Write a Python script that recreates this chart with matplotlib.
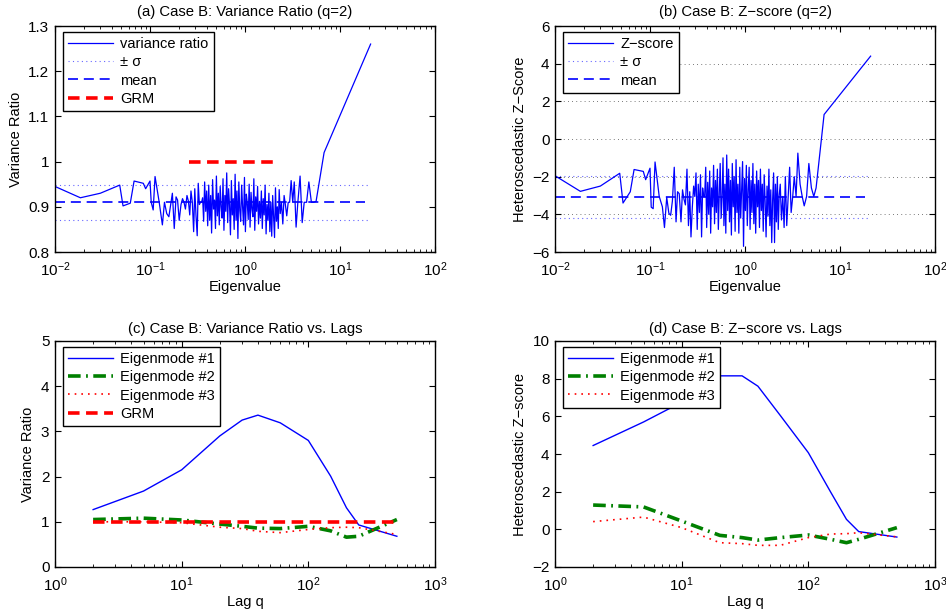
import matplotlib
matplotlib.use('Agg')
import matplotlib.pyplot as plt
from matplotlib.ticker import FormatStrFormatter
import numpy as np

plt.rcParams['font.family'] = ['Liberation Sans', 'DejaVu Sans']
plt.rcParams['font.size'] = 10

# --- panels (a)/(b): variance ratio and z-score per eigenvalue (q=2) ---
eig_head = [0.0100, 0.0185, 0.0300, 0.0480, 0.0520, 0.0620, 0.0680, 0.0850, 0.0900, 0.1000,
            0.1030, 0.1080, 0.1130]
vr_head = [0.945, 0.920, 0.930, 0.948, 0.902, 0.908, 0.957, 0.952, 0.940, 0.957,
           0.910, 0.893, 0.967]
z_head = [-1.95, -2.78, -2.50, -1.82, -3.40, -2.80, -1.62, -1.72, -2.16, -1.55,
          -3.62, -3.70, -1.22]

eig_noise = [0.125, 0.135, 0.142, 0.150, 0.158, 0.165, 0.172, 0.180, 0.188, 0.195,
             0.203, 0.212, 0.220, 0.228, 0.236, 0.245, 0.254, 0.262, 0.270, 0.279,
             0.288, 0.296, 0.305, 0.314, 0.322, 0.331, 0.340, 0.349, 0.358, 0.367,
             0.376, 0.386, 0.395, 0.405, 0.415, 0.425, 0.435, 0.445, 0.456, 0.467,
             0.478, 0.489, 0.500, 0.512, 0.524, 0.536, 0.548, 0.561, 0.574, 0.587,
             0.600, 0.614, 0.628, 0.642, 0.657, 0.672, 0.687, 0.703, 0.719, 0.735,
             0.752, 0.769, 0.787, 0.805, 0.823, 0.842, 0.861, 0.881, 0.901, 0.922,
             0.943, 0.965, 0.987, 1.010, 1.033, 1.057, 1.081, 1.106, 1.131, 1.157,
             1.184, 1.211, 1.239, 1.267, 1.296, 1.326, 1.357, 1.388, 1.420, 1.453,
             1.487, 1.521, 1.556, 1.592, 1.629, 1.667, 1.705, 1.745, 1.785, 1.826,
             1.868, 1.911, 1.955, 2.000, 2.046, 2.093, 2.141, 2.190, 2.240, 2.290,
             2.350, 2.420, 2.500, 2.580, 2.660, 2.750, 2.850, 2.950, 3.060, 3.180,
             3.300, 3.450, 3.600, 3.800, 4.000, 4.200, 4.450, 4.700, 5.000, 5.300]
vr_noise = [0.910, 0.860, 0.910, 0.885, 0.878, 0.905, 0.930, 0.852, 0.922, 0.915,
            0.870, 0.905, 0.918, 0.910, 0.895, 0.925, 0.912, 0.882, 0.935, 0.910,
            0.845, 0.940, 0.880, 0.836, 0.952, 0.905, 0.910, 0.910, 0.920, 0.868,
            0.955, 0.890, 0.935, 0.858, 0.948, 0.870, 0.925, 0.842, 0.960, 0.895,
            0.915, 0.852, 0.968, 0.880, 0.930, 0.860, 0.945, 0.900, 0.875, 0.962,
            0.848, 0.925, 0.890, 0.975, 0.865, 0.940, 0.905, 0.838, 0.958, 0.882,
            0.918, 0.850, 0.972, 0.870, 0.935, 0.830, 0.955, 0.892, 0.868, 0.948,
            0.900, 0.860, 0.965, 0.845, 0.928, 0.908, 0.872, 0.950, 0.855, 0.932,
            0.895, 0.878, 0.962, 0.848, 0.922, 0.890, 0.945, 0.862, 0.912, 0.875,
            0.935, 0.852, 0.918, 0.882, 0.948, 0.840, 0.905, 0.870, 0.930, 0.845,
            0.910, 0.835, 0.925, 0.880, 0.832, 0.942, 0.868, 0.900, 0.852, 0.938,
            0.885, 0.910, 0.862, 0.925, 0.905, 0.880, 0.910, 0.910, 0.958, 0.910,
            0.955, 0.855, 0.910, 0.968, 0.865, 0.910, 0.910, 0.955, 0.910, 0.910]
z_noise = [-3.05, -3.60, -4.70, -3.10, -3.95, -4.05, -3.30, -1.50, -4.40, -2.80,
           -2.90, -4.40, -2.70, -3.20, -3.50, -1.60, -4.60, -2.80, -5.20, -3.60,
           -2.50, -3.05, -1.80, -4.80, -2.40, -3.90, -1.90, -5.20, -2.60, -3.05,
           -3.05, -1.50, -4.70, -2.30, -4.00, -1.70, -5.00, -2.60, -3.60, -1.40,
           -4.50, -2.20, -3.90, -1.60, -4.80, -2.90, -1.30, -4.20, -3.10, -1.00,
           -4.60, -2.40, -5.00, -0.85, -3.80, -1.60, -4.40, -2.20, -5.10, -1.30,
           -3.60, -2.00, -4.90, -1.10, -3.90, -2.40, -5.00, -1.50, -4.20, -2.60,
           -1.20, -5.70, -2.10, -3.80, -1.40, -4.60, -2.70, -1.50, -4.80, -2.20,
           -3.90, -1.30, -4.50, -2.40, -5.00, -1.70, -3.60, -2.20, -4.70, -1.60,
           -3.80, -2.40, -4.90, -1.90, -3.30, -5.20, -2.50, -4.10, -1.60, -4.60,
           -2.70, -5.50, -3.20, -1.80, -5.50, -2.40, -4.40, -2.00, -4.80, -3.00,
           -2.40, -4.30, -3.05, -4.70, -2.00, -4.60, -3.05, -1.50, -3.90, -3.05,
           -2.00, -3.05, -0.75, -2.40, -3.05, -3.55, -3.05, -1.30, -2.60, -3.05]

eig_tail = [5.600, 6.800, 21.00]
vr_tail = [0.912, 1.020, 1.260]
z_tail = [-2.60, 1.30, 4.40]

vr_mean, vr_sig_hi, vr_sig_lo = 0.91, 0.948, 0.870
z_mean, z_sig_hi, z_sig_lo = -3.07, -1.98, -4.18
mean_span = [0.01, 18.5]
sigma_span = [0.01, 20.0]
grm_span = [0.26, 2.25]
grm_level = 1.0

# --- panels (c)/(d): lags ---
lags = [2, 5, 10, 20, 30, 40, 60, 100, 150, 200, 250, 500]
vr_mode1 = [1.27, 1.68, 2.15, 2.90, 3.25, 3.36, 3.19, 2.80, 2.01, 1.31, 0.93, 0.68]
vr_mode2 = [1.05, 1.08, 1.04, 0.95, 0.90, 0.86, 0.85, 0.90, 0.80, 0.66, 0.68, 1.05]
vr_mode3 = [1.00, 1.00, 0.98, 0.88, 0.85, 0.79, 0.76, 0.83, 0.87, 0.88, 0.87, 0.72]
z_mode1 = [4.45, 5.70, 6.75, 8.15, 8.15, 7.60, 6.05, 4.07, 1.98, 0.53, -0.12, -0.41]
z_mode2 = [1.29, 1.19, 0.44, -0.32, -0.44, -0.57, -0.44, -0.30, -0.53, -0.71, -0.53, 0.09]
z_mode3 = [0.41, 0.65, 0.09, -0.71, -0.76, -0.85, -0.85, -0.44, -0.25, -0.23, -0.18, -0.40]

eig = np.array(eig_head + eig_noise + eig_tail)
vr = np.array(vr_head + vr_noise + vr_tail)
zs = np.array(z_head + z_noise + z_tail)

fig = plt.figure(figsize=(9.46, 6.16), dpi=100)
W, H = 380 / 946, 226 / 616
ax_a = fig.add_axes([55 / 946, 1 - 252 / 616, W, H])
ax_b = fig.add_axes([555 / 946, 1 - 252 / 616, W, H])
ax_c = fig.add_axes([55 / 946, 1 - 567 / 616, W, H])
ax_d = fig.add_axes([555 / 946, 1 - 567 / 616, W, H])

blue, green, red = (0, 0, 1), (0, 0.5, 0), (1, 0, 0)
TITLE_FS = 10.7


def style(ax):
    ax.set_xscale('log')
    ax.tick_params(which='both', direction='in', top=True, right=True, labelsize=11)
    ax.tick_params(which='major', length=4)
    ax.tick_params(which='minor', length=2)
    ax.tick_params(axis='x', which='major', pad=6)
    ax.tick_params(axis='y', which='major', pad=4)
    for s in ax.spines.values():
        s.set_linewidth(1.0)


def legend(ax, **kw):
    leg = ax.legend(loc='upper left', bbox_to_anchor=(0.02, 0.975), borderaxespad=0,
                    fancybox=False, edgecolor='k', framealpha=1, handlelength=3.1,
                    handletextpad=0.5, labelspacing=0.3, borderpad=0.35, fontsize=10.5, **kw)
    leg.get_frame().set_linewidth(1.0)
    return leg


# (a)
ax = ax_a
style(ax)
ax.plot(eig, vr, color=blue, lw=0.9, label='variance ratio')
ax.plot(sigma_span, [vr_sig_hi] * 2, color=blue, lw=0.8, ls=(0, (1, 3)), alpha=0.6, label='± σ')
ax.plot(sigma_span, [vr_sig_lo] * 2, color=blue, lw=0.8, ls=(0, (1, 3)), alpha=0.6)
ax.plot(mean_span, [vr_mean] * 2, color=blue, lw=1.2, ls=(0, (6, 3.5)), label='mean')
ax.plot(grm_span, [grm_level] * 2, color=red, lw=2.6, ls=(0, (3.2, 1.8)), label='GRM')
ax.set_xlim(0.01, 100)
ax.set_ylim(0.8, 1.3)
ax.set_yticks([0.8, 0.9, 1.0, 1.1, 1.2, 1.3])
ax.yaxis.set_major_formatter(FormatStrFormatter('%g'))
ax.set_xlabel('Eigenvalue', fontsize=10.5, labelpad=1)
ax.set_ylabel('Variance Ratio', fontsize=10.5)
ax.set_title('(a) Case B: Variance Ratio (q=2)', fontsize=TITLE_FS, pad=7)
legend(ax)

# (b)
ax = ax_b
style(ax)
for yv in [-4, -2, 0, 2, 4]:
    ax.axhline(yv, color='k', lw=0.6, ls=(0, (1, 4)), alpha=0.7, zorder=0)
ax.plot(eig, zs, color=blue, lw=0.9, label='Z\u2212score')
ax.plot(sigma_span, [z_sig_hi] * 2, color=blue, lw=0.8, ls=(0, (1, 3)), alpha=0.6, label='± σ')
ax.plot(sigma_span, [z_sig_lo] * 2, color=blue, lw=0.8, ls=(0, (1, 3)), alpha=0.6)
ax.plot(mean_span, [z_mean] * 2, color=blue, lw=1.2, ls=(0, (6, 3.5)), label='mean')
ax.set_xlim(0.01, 100)
ax.set_ylim(-6, 6)
ax.set_yticks([-6, -4, -2, 0, 2, 4, 6])
ax.set_xlabel('Eigenvalue', fontsize=10.5, labelpad=1)
ax.set_ylabel('Heteroscedastic Z\u2212Score', fontsize=10.5)
ax.set_title('(b) Case B: Z\u2212score (q=2)', fontsize=TITLE_FS, pad=7)
legend(ax)

# (c)
ax = ax_c
style(ax)
ax.plot(lags, vr_mode1, color=blue, lw=1.0, label='Eigenmode #1')
ax.plot(lags, vr_mode2, color=green, lw=2.6, ls=(0, (3.5, 1.5, 0.5, 1.5)), label='Eigenmode #2')
ax.plot(lags, vr_mode3, color=red, lw=1.2, ls=(0, (1, 3)), label='Eigenmode #3')
ax.plot([lags[0], lags[-1]], [grm_level] * 2, color=red, lw=2.6, ls=(0, (3.2, 1.8)), label='GRM')
ax.set_xlim(1, 1000)
ax.set_ylim(0, 5)
ax.set_xlabel('Lag q', fontsize=10.5, labelpad=1)
ax.set_ylabel('Variance Ratio', fontsize=10.5)
ax.set_title('(c) Case B: Variance Ratio vs. Lags', fontsize=TITLE_FS, pad=6)
legend(ax)

# (d)
ax = ax_d
style(ax)
ax.plot(lags, z_mode1, color=blue, lw=1.0, label='Eigenmode #1')
ax.plot(lags, z_mode2, color=green, lw=2.6, ls=(0, (3.5, 1.5, 0.5, 1.5)), label='Eigenmode #2')
ax.plot(lags, z_mode3, color=red, lw=1.2, ls=(0, (1, 3)), label='Eigenmode #3')
ax.set_xlim(1, 1000)
ax.set_ylim(-2, 10)
ax.set_yticks([-2, 0, 2, 4, 6, 8, 10])
ax.set_xlabel('Lag q', fontsize=10.5, labelpad=1)
ax.set_ylabel('Heteroscedastic Z\u2212score', fontsize=10.5)
ax.set_title('(d) Case B: Z\u2212score vs. Lags', fontsize=TITLE_FS, pad=6)
legend(ax)

fig.savefig('out.png', dpi=100)
